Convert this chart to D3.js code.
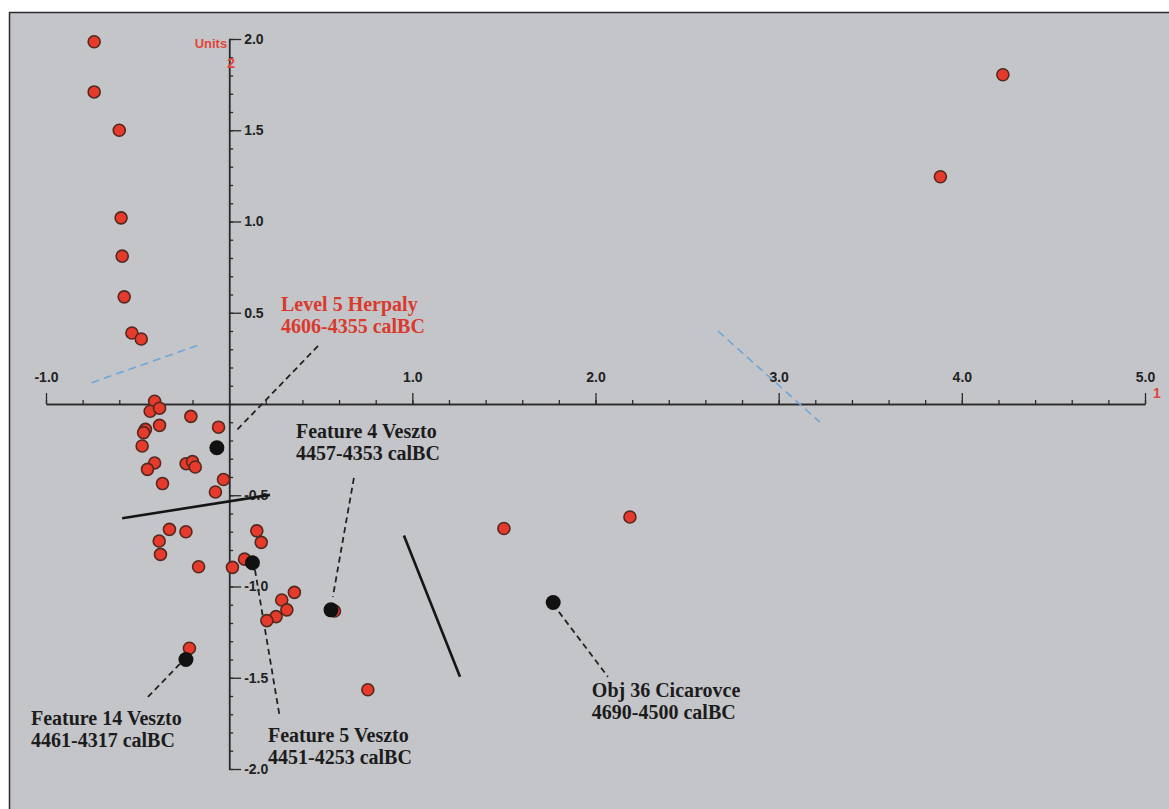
<!DOCTYPE html>
<html>
<head>
<meta charset="utf-8">
<script src="https://cdn.jsdelivr.net/npm/d3@7"></script>
<style>
  html, body { margin: 0; padding: 0; background: #ffffff; }
  svg { display: block; }
</style>
</head>
<body>
<svg id="chart" width="1169" height="809"></svg>
<script>
// ---- data (axis units) ----
const redX = [-0.737,-0.737,-0.600,-0.590,-0.584,-0.573,-0.531,-0.480,
  -0.407,-0.431,-0.380,-0.209,-0.380,-0.457,-0.467,-0.058,-0.475,-0.407,-0.446,
  -0.235,-0.200,-0.185,-0.364,-0.031,-0.075,-0.326,-0.236,-0.382,-0.375,
  0.151,0.175,-0.167,0.018,0.084,0.356,0.287,0.315,0.256,0.206,0.575,
  -0.217,0.757,1.500,2.188,4.224,3.883];
const redY = [1.985,1.710,1.500,1.020,0.810,0.587,0.389,0.356,
  0.015,-0.040,-0.023,-0.068,-0.117,-0.139,-0.157,-0.127,-0.230,-0.323,-0.358,
  -0.327,-0.316,-0.345,-0.436,-0.414,-0.482,-0.687,-0.700,-0.751,-0.824,
  -0.695,-0.758,-0.892,-0.895,-0.850,-1.032,-1.074,-1.128,-1.165,-1.187,-1.134,
  -1.338,-1.566,-0.682,-0.619,1.804,1.245];

const blackX = [-0.067, 0.127, 0.556, -0.236, 1.769];
const blackY = [-0.240, -0.870, -1.128, -1.400, -1.088];

const xMajorTicks = [-1, 1, 2, 3, 4, 5];
const yMajorTicks = [2, 1.5, 1, 0.5, -0.5, -1, -1.5, -2];

// dashed blue guide lines [x1,y1,x2,y2]
const blueLines = [[-0.751, 0.117, -0.150, 0.329], [2.668, 0.400, 3.225, -0.099]];
// solid black lines
const blackLines = [[-0.584, -0.626, 0.223, -0.498], [0.954, -0.721, 1.260, -1.495]];

// annotations: text lines, text anchor (axis units), leader line (axis units)
const annoText = [
  ["Level 5 Herpaly", "4606-4355 calBC"],
  ["Feature 4 Veszto", "4457-4353 calBC"],
  ["Feature 14 Veszto", "4461-4317 calBC"],
  ["Feature 5 Veszto", "4451-4253 calBC"],
  ["Obj 36 Cicarovce", "4690-4500 calBC"]
];
const annoPos = [[0.283, 0.510], [0.365, -0.186], [-1.082, -1.758], [0.212, -1.851], [1.980, -1.605]];
const annoLeader = [
  [0.485, 0.318, 0.032, -0.153],
  [0.681, -0.405, 0.566, -1.057],
  [-0.269, -1.424, -0.454, -1.616],
  [0.141, -0.909, 0.277, -1.720],
  [1.800, -1.139, 2.068, -1.495]
];
const annoRed = [true, false, false, false, false];

// ---- drawing ----
const svg = d3.select("#chart");
const x = d3.scaleLinear().domain([-1, 5]).range([46, 1145]);
const y = d3.scaleLinear().domain([-2, 2]).range([769, 39]);

// panel
svg.append("rect").attr("x", 9.5).attr("y", 12.5).attr("width", 1170).attr("height", 810)
  .attr("fill", "#c4c5c9").attr("stroke", "#2b2b2b").attr("stroke-width", 1.5);

const axisFont = "'Liberation Sans', Arial, sans-serif";
const serif = "'Liberation Serif', 'Times New Roman', serif";

// X axis (horizontal line at y=0)
const gx = svg.append("g").attr("transform", `translate(0,${y(0)})`);
gx.call(d3.axisTop(x).tickValues(d3.range(-1, 5.001, 0.2)).tickSize(4).tickSizeOuter(0).tickFormat(""));
gx.append("g").call(d3.axisTop(x).tickValues(xMajorTicks).tickSize(11).tickSizeOuter(0)
  .tickPadding(11).tickFormat(d => d.toFixed(1)));
gx.selectAll("path.domain").attr("stroke", "#2a2a2a").attr("stroke-width", 1.5);
gx.selectAll(".tick line").attr("stroke", "#2a2a2a").attr("stroke-width", 1.3);
gx.selectAll("text").attr("font-family", axisFont).attr("font-weight", "bold")
  .attr("font-size", 14).attr("fill", "#222");

// Y axis (vertical line at x=0)
const gy = svg.append("g").attr("transform", `translate(${x(0)},0)`);
gy.call(d3.axisRight(y).tickValues(d3.range(-2, 2.001, 0.1)).tickSize(4).tickSizeOuter(0).tickFormat(""));
gy.append("g").call(d3.axisRight(y).tickValues(yMajorTicks).tickSize(12).tickSizeOuter(0)
  .tickPadding(3).tickFormat(d => d.toFixed(1)));
gy.selectAll("path.domain").attr("stroke", "#2a2a2a").attr("stroke-width", 1.5);
gy.selectAll(".tick line").attr("stroke", "#2a2a2a").attr("stroke-width", 1.3);
gy.selectAll("text").attr("font-family", axisFont).attr("font-weight", "bold")
  .attr("font-size", 14).attr("fill", "#222");

// axis unit labels
svg.append("text").attr("x", x(0) - 2).attr("y", y(2) + 9).attr("text-anchor", "end")
  .attr("font-family", axisFont).attr("font-weight", "bold").attr("font-size", 13)
  .attr("fill", "#e0453a").text("Units");
svg.append("text").attr("x", x(0) + 2).attr("y", y(2) + 29).attr("text-anchor", "middle")
  .attr("font-family", axisFont).attr("font-weight", "bold").attr("font-size", 14)
  .attr("fill", "#e0453a").text("2");
svg.append("text").attr("x", x(5) + 12).attr("y", y(0) - 6).attr("text-anchor", "middle")
  .attr("font-family", axisFont).attr("font-weight", "bold").attr("font-size", 14)
  .attr("fill", "#e0453a").text("1");

// blue dashed lines
svg.append("g").selectAll("line").data(blueLines).join("line")
  .attr("x1", d => x(d[0])).attr("y1", d => y(d[1]))
  .attr("x2", d => x(d[2])).attr("y2", d => y(d[3]))
  .attr("stroke", "#6ea7dc").attr("stroke-width", 1.6).attr("stroke-dasharray", "8,5");

// black solid lines
svg.append("g").selectAll("line").data(blackLines).join("line")
  .attr("x1", d => x(d[0])).attr("y1", d => y(d[1]))
  .attr("x2", d => x(d[2])).attr("y2", d => y(d[3]))
  .attr("stroke", "#151515").attr("stroke-width", 2.6);

// leader lines
svg.append("g").selectAll("line").data(annoLeader).join("line")
  .attr("x1", d => x(d[0])).attr("y1", d => y(d[1]))
  .attr("x2", d => x(d[2])).attr("y2", d => y(d[3]))
  .attr("stroke", "#222").attr("stroke-width", 1.8).attr("stroke-dasharray", "6,4");

// red points
svg.append("g").selectAll("circle").data(redX.map((v, i) => [v, redY[i]])).join("circle")
  .attr("cx", d => x(d[0])).attr("cy", d => y(d[1])).attr("r", 6)
  .attr("fill", "#e63a2c").attr("stroke", "#55291f").attr("stroke-width", 1.6);

// black points
svg.append("g").selectAll("circle").data(blackX.map((v, i) => [v, blackY[i]])).join("circle")
  .attr("cx", d => x(d[0])).attr("cy", d => y(d[1])).attr("r", 7.5)
  .attr("fill", "#111");

// annotation texts
const ag = svg.append("g");
annoText.forEach((lines, i) => {
  const t = ag.append("text").attr("x", x(annoPos[i][0])).attr("y", y(annoPos[i][1]))
    .attr("font-family", serif).attr("font-weight", "bold").attr("font-size", 20)
    .attr("fill", annoRed[i] ? "#d93a2e" : "#1c1c1c");
  lines.forEach((s, j) => {
    t.append("tspan").attr("x", x(annoPos[i][0])).attr("dy", j === 0 ? 0 : 22).text(s);
  });
});
</script>
</body>
</html>
